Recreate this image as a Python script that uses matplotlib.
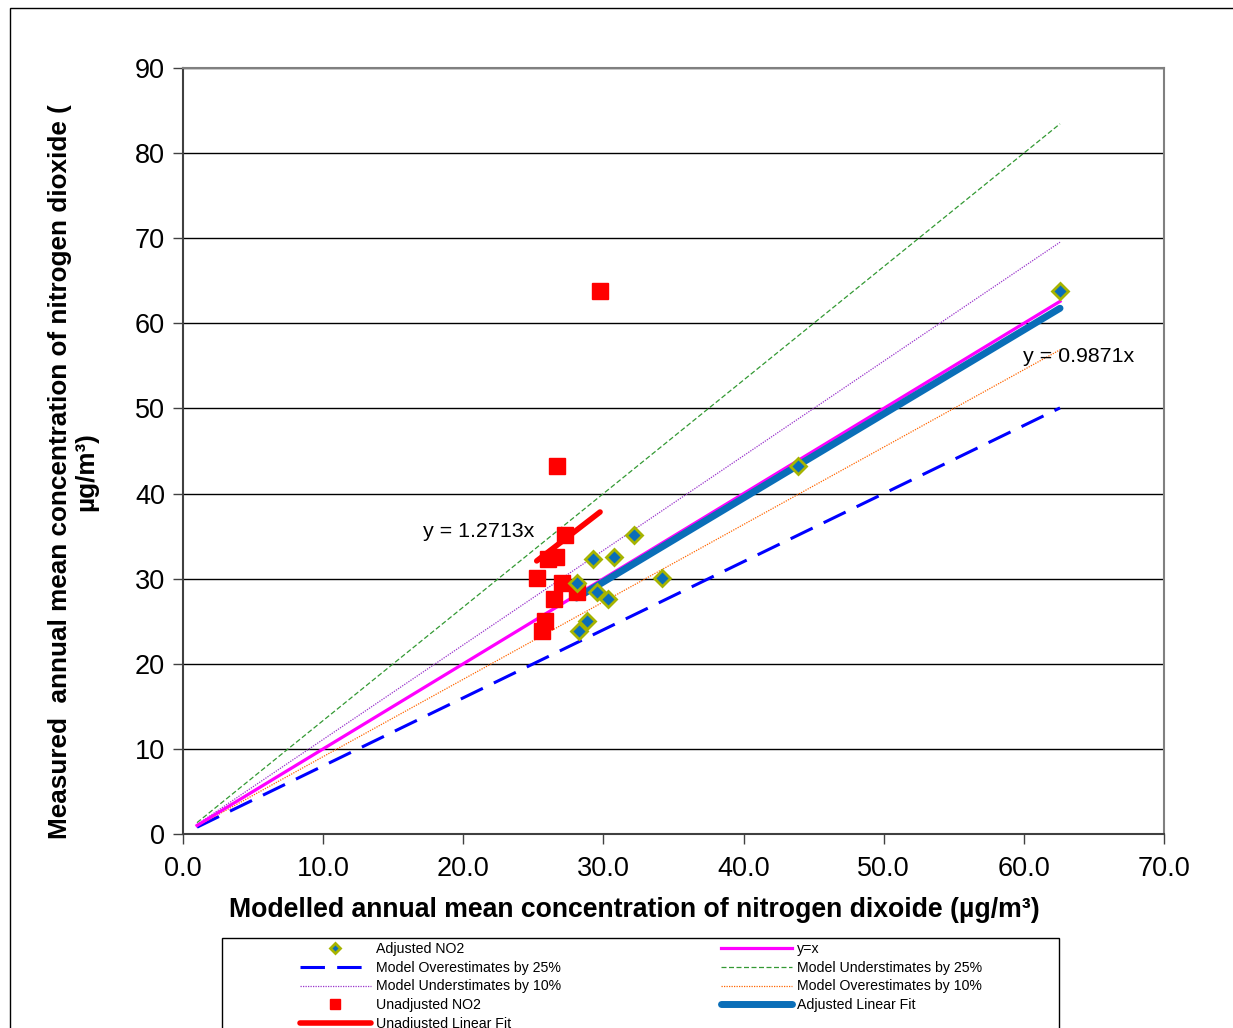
import matplotlib.pyplot as plt
from matplotlib.patches import Rectangle

plt.rcParams['font.family'] = ['Liberation Sans', 'DejaVu Sans']

# measured concentrations (same sites for both series)
measured = [63.8, 43.2, 35.1, 32.3, 32.6, 30.05, 29.5, 28.45, 27.6, 25.05, 23.9]
unadjusted = [29.76, 26.67, 27.26, 26.02, 26.62, 25.24, 27.04, 28.09, 26.47, 25.83, 25.62]
adjusted = [62.58, 43.88, 32.2, 29.28, 30.78, 34.16, 28.09, 29.52, 30.35, 28.81, 28.26]

slope_adj = 0.9871
slope_unadj = 1.2713
line_x = [1.0, max(adjusted)]

fig = plt.figure(figsize=(12.33, 10.28), dpi=100)
ax = fig.add_axes([183/1233, 1-834/1028, (1164-183)/1233, (834-68)/1028])

# outer chart frame
fig.patches.append(Rectangle((10/1233, -0.1), 1.2, 1-8/1028+0.1, transform=fig.transFigure,
                             fill=False, edgecolor='black', linewidth=1))
# legend frame
fig.patches.append(Rectangle((222/1233, -0.1), (1059-222)/1233, 0.1+1-938/1028,
                             transform=fig.transFigure, fill=False,
                             edgecolor='black', linewidth=1, zorder=5))

h_adj, = ax.plot(adjusted, measured, linestyle='none', marker='D', markersize=8.5,
                 markerfacecolor='#0A6EB8', markeredgecolor='#A6B400', markeredgewidth=2,
                 zorder=6, label='Adjusted NO2')
h_o25, = ax.plot(line_x, [v / 1.25 for v in line_x], color='#0000FF', lw=2.2,
                 dashes=(8, 4), label='Model Overestimates by 25%')
h_u10, = ax.plot(line_x, [v / 0.9 for v in line_x], color='#9933CC', lw=0.9,
                 linestyle=(0, (1, 1)), label='Model Understimates by 10%')
h_unadj, = ax.plot(unadjusted, measured, linestyle='none', marker='s', markersize=11,
                   color='#FF0000', zorder=5, label='Unadjusted NO2')
ux = [min(unadjusted), max(unadjusted)]
h_ufit, = ax.plot(ux, [slope_unadj * v for v in ux], color='#FF0000', lw=4,
                  solid_capstyle='round', zorder=4, label='Unadjusted Linear Fit')
h_yx, = ax.plot(line_x, line_x, color='#FF00FF', lw=2.3, zorder=3, label='y=x')
h_u25, = ax.plot(line_x, [v / 0.75 for v in line_x], color='#339933', lw=0.9,
                 linestyle=(0, (4, 2)), label='Model Understimates by 25%')
h_o10, = ax.plot(line_x, [v / 1.1 for v in line_x], color='#FF6600', lw=0.9,
                 linestyle=(0, (1, 1)), label='Model Overestimates by 10%')
ax_x = [min(adjusted), max(adjusted)]
h_afit, = ax.plot(ax_x, [slope_adj * v for v in ax_x], color='#0A6EB8', lw=5,
                  solid_capstyle='round', zorder=4, label='Adjusted Linear Fit')

ax.text(21.1, 35.6, 'y = 1.2713x', fontsize=15.4, ha='center', va='center')
ax.text(63.9, 56.1, 'y = 0.9871x', fontsize=15.4, ha='center', va='center')

ax.set_xlim(0, 70)
ax.set_ylim(0, 90)
ax.set_xticks(range(0, 71, 10))
ax.set_xticklabels([f'{v:.1f}' for v in range(0, 71, 10)])
ax.set_yticks(range(0, 91, 10))
ax.tick_params(labelsize=19.5, length=7, width=1, color='#404040')
ax.tick_params(axis='x', pad=9)
ax.tick_params(axis='y', pad=6)
ax.yaxis.grid(True, color='black', linewidth=1)
ax.set_axisbelow(True)
for s in ax.spines.values():
    s.set_color('#808080')
    s.set_linewidth(1.5)
ax.spines['left'].set_color('#404040')
ax.spines['bottom'].set_color('#404040')

fig.text(73/1233, 1-472/1028,
         'Measured  annual mean concentration of nitrogen dioxide (\nµg/m³)',
         rotation=90, ha='center', va='center', fontsize=18.8, fontweight='bold',
         multialignment='center', linespacing=1.1)
fig.text(634.5/1233, 1-910/1028,
         'Modelled annual mean concentration of nitrogen dixoide (µg/m³)',
         ha='center', va='center', fontsize=19.2, fontweight='bold')

handles = [h_adj, h_o25, h_u10, h_unadj, h_ufit, h_yx, h_u25, h_o10, h_afit]
leg = fig.legend(handles=handles, loc='upper left',
                 bbox_to_anchor=(297/1233, 1-939/1028), ncol=2, fontsize=10.2,
                 frameon=False, handlelength=5.0, handletextpad=0.35,
                 labelspacing=0.34, columnspacing=11.3, borderpad=0.2,
                 borderaxespad=0, markerscale=0.6)

fig.savefig('out.png', dpi=100)
